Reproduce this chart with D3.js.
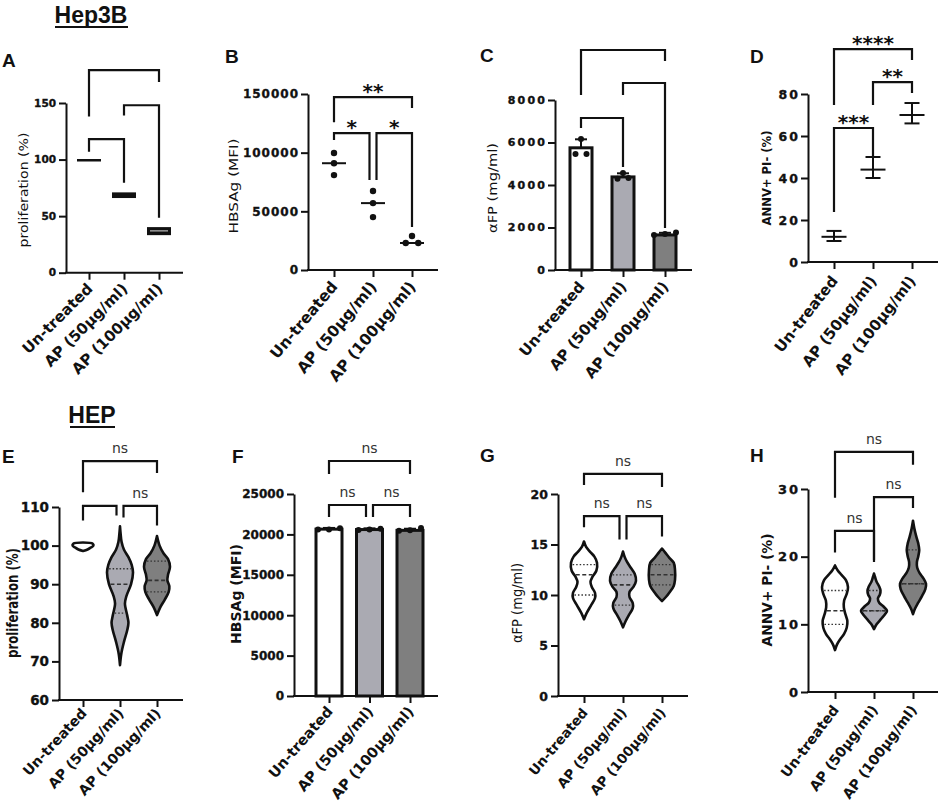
<!DOCTYPE html>
<html>
<head>
<meta charset="utf-8">
<script src="https://cdn.jsdelivr.net/npm/d3@7"></script>
<style>
  html, body { margin: 0; padding: 0; background: #fff; }
  svg { display: block; }
</style>
</head>
<body>
<div id="chart"></div>
<script>
const groups = ['Un-treated', 'AP (50µg/ml)', 'AP (100µg/ml)'];
const fills = ['#ffffff', '#aaaab2', '#7f7f7f'];

// A: Hep3B proliferation (%), floating min-max with mean
const aLow = [99.5, 66, 33.2];
const aHigh = [100.5, 71, 40.3];
const aMean = [100, 68.5, 37];
const aTicks = [0, 50, 100, 150];
// [from, to, bar, left leg end, right leg end, label]
const aBrackets = [[0, 2, 179, 138, 168.5, ''], [1, 2, 148, 139, 48.6, ''], [0, 1, 118, 107, 79.4, '']];

// B: HBSAg (MFI), scatter with median
const bPoints = [[99700, 91000, 80900], [67300, 57000, 45100], [29000, 23000, 23000]];
const bMedian = [91000, 57000, 23000];
const bTicks = [0, 50000, 100000, 150000];
const bBrackets = [[0, 2, 147400, 126000, 138000, '**'], [0, 1, 116700, 110700, 76700, '*'], [1, 2, 116700, 76700, 36600, '*']];

// C: aFP (mg/ml), bars with SD
const cMean = [5750, 4380, 1650];
const cSD = [400, 170, 100];
const cPoints = [[6160, 5460, 5460], [4560, 4330, 4300], [1760, 1650, 1690]];
const cTicks = [0, 2000, 4000, 6000, 8000];
const cBrackets = [[0, 2, 10353, 8235, 9835, ''], [1, 2, 8800, 8235, 1976, ''], [0, 1, 7153, 6682, 4847, '']];

// D: ANNV+ PI- (%), mean with SD
const dMean = [12, 44, 70];
const dLow = [10, 40, 66];
const dHigh = [14.8, 50, 75.7];
const dTicks = [0, 20, 40, 60, 80];
const dBrackets = [[0, 2, 101.4, 74.8, 96.2, '****'], [1, 2, 85.7, 74.8, 80.5, '**'], [0, 1, 63.8, 23.8, 49.5, '***']];

// E: HEP proliferation (%), violins [value, relative density]
const eViolins = [
  [[98.6, 0], [99.0, 0.35], [99.5, 0.6], [100, 0.8], [100.5, 0.75], [100.8, 0]],
  [[69, 0], [72, 0.1], [75, 0.3], [78, 0.55], [80, 0.65], [82, 0.55], [85, 0.38], [87, 0.5], [90, 0.85], [93, 1], [95, 0.9], [97, 0.65], [99, 0.3], [101, 0.12], [103, 0.05], [105, 0]],
  [[82, 0], [84, 0.25], [86, 0.6], [88, 0.9], [89.5, 0.95], [91, 0.8], [92.5, 0.85], [94.5, 1], [96.5, 0.85], [98, 0.5], [100, 0.2], [102.5, 0]]
];
const eQuartiles = [[], [82.5, 90, 94], [88, 91, 96]];
const eTicks = [60, 70, 80, 90, 100, 110];
const eBrackets = [[0, 2, 121.9, 113.8, 118.8, 'ns'], [0, 1, 110.3, 106.5, 107.8, ''], [1, 2, 110.3, 107.3, 105.2, 'ns']];

// F: HBSAg (MFI), bars with SD
const fMean = [20650, 20600, 20500];
const fSD = [150, 150, 200];
const fPoints = [[20750, 20600, 20600], [20700, 20600, 20550], [20800, 20450, 20500]];
const fTicks = [0, 5000, 10000, 15000, 20000, 25000];
const fBrackets = [[0, 2, 29084, 27475, 27475, 'ns'], [0, 1, 23639, 22153, 22153, 'ns'], [1, 2, 23639, 22153, 22153, 'ns']];

// G: aFP (mg/ml), violins
const gViolins = [
  [[7.6, 0], [8.2, 0.2], [9, 0.55], [9.7, 0.85], [10.2, 0.85], [10.8, 0.6], [11.3, 0.5], [11.8, 0.65], [12.4, 0.95], [13.2, 1], [13.8, 0.8], [14.3, 0.45], [14.8, 0.15], [15.3, 0]],
  [[6.8, 0], [7.4, 0.2], [8.0, 0.45], [8.7, 0.75], [9.2, 0.75], [9.8, 0.5], [10.3, 0.5], [10.8, 0.8], [11.4, 1], [12.1, 0.9], [12.7, 0.6], [13.3, 0.3], [13.8, 0.12], [14.3, 0]],
  [[9.4, 0], [9.8, 0.3], [10.3, 0.6], [10.9, 0.9], [11.5, 1], [12.5, 1], [13.2, 0.9], [13.7, 0.55], [14.2, 0.25], [14.6, 0]]
];
const gQuartiles = [[10, 12, 13], [9, 11, 12], [11, 12, 13]];
const gTicks = [0, 5, 10, 15, 20];
const gBrackets = [[0, 2, 22.0, 20.9, 20.7, 'ns'], [0, 1, 17.8, 16.7, 15.5, 'ns'], [1, 2, 17.8, 15.5, 15.8, 'ns']];

// H: ANNV+ PI- (%), violins
const hViolins = [
  [[6.2, 0], [7, 0.15], [7.8, 0.4], [8.6, 0.7], [9.5, 0.9], [10.5, 0.95], [11.5, 0.8], [12.5, 0.68], [13.5, 0.7], [14.5, 0.9], [15.5, 1], [16.5, 0.85], [17.3, 0.5], [18, 0.2], [18.7, 0]],
  [[9.3, 0], [10, 0.2], [10.8, 0.55], [11.5, 0.85], [12, 1], [12.6, 0.75], [13.2, 0.4], [13.8, 0.3], [14.4, 0.45], [15, 0.5], [15.6, 0.4], [16.3, 0.2], [17, 0.08], [17.5, 0]],
  [[11.5, 0], [12.3, 0.15], [13.2, 0.4], [14.2, 0.7], [15.2, 0.95], [16, 1], [16.8, 0.8], [17.6, 0.5], [18.4, 0.32], [19.2, 0.3], [20, 0.4], [21, 0.48], [22, 0.4], [23, 0.25], [24.2, 0.1], [25.3, 0]]
];
const hQuartiles = [[10, 12, 15], [12, 12, 15], [16, 16, 21]];
const hTicks = [0, 10, 20, 30];
const hBrackets = [[0, 2, 35.5, 28.7, 33.6, 'ns'], [1, 2, 28.8, 19.5, 27.2, 'ns'], [0, 1, 23.8, 20.6, 19.2, 'ns']];

const W = 941, H = 801;
const FONT = '"DejaVu Sans", sans-serif';
const HEAD = '"Liberation Sans", Arial, sans-serif';

const svg = d3.select('#chart').append('svg')
  .attr('width', W).attr('height', H)
  .attr('font-family', FONT);

// section titles
function title(text, cx, base, x1, x2) {
  svg.append('text').attr('x', cx).attr('y', base).attr('text-anchor', 'middle')
    .attr('font-family', HEAD).attr('font-weight', 'bold').attr('font-size', 23).attr('fill', '#111')
    .text(text);
  svg.append('line').attr('x1', x1).attr('x2', x2).attr('y1', base + 4).attr('y2', base + 4)
    .attr('stroke', '#111').attr('stroke-width', 2);
}
title('Hep3B', 91, 23, 55, 128);
title('HEP', 92, 423, 70, 115);

function swarmOffsets(values, y, gap) {
  // cluster points that sit on nearly the same height and spread them symmetrically
  const idx = values.map((v, i) => i).sort((a, b) => values[a] - values[b]);
  const out = new Array(values.length).fill(0);
  let cluster = [];
  const flush = () => {
    cluster.forEach((k, j) => { out[k] = (j - (cluster.length - 1) / 2) * gap; });
    cluster = [];
  };
  idx.forEach(i => {
    if (cluster.length && Math.abs(y(values[i]) - y(values[cluster[cluster.length - 1]])) > 4) flush();
    cluster.push(i);
  });
  flush();
  return out;
}

function widthAt(profile, v) {
  for (let i = 1; i < profile.length; i++) {
    const [v0, d0] = profile[i - 1], [v1, d1] = profile[i];
    if (v >= v0 && v <= v1) return d0 + (d1 - d0) * (v - v0) / (v1 - v0);
  }
  return 0;
}

function panel(p) {
  const g = svg.append('g');
  const x = d3.scalePoint().domain(groups).range([p.t0, p.t1]);
  const y = d3.scaleLinear().domain([p.ticks[0], p.ticks[p.ticks.length - 1]]).range([p.yb, p.yt]);

  g.append('text').attr('x', p.letter[0]).attr('y', p.letter[1])
    .attr('font-family', HEAD).attr('font-weight', 'bold').attr('font-size', 19).attr('fill', '#111')
    .text(p.name);

  // y axis (lines from d3.axisLeft, labels written out so they keep their weight)
  const ya = g.append('g').attr('transform', `translate(${p.ax},0)`)
    .call(d3.axisLeft(y).tickValues(p.ticks).tickFormat('').tickSize(7).tickSizeOuter(0));
  ya.select('.domain').attr('stroke', '#111').attr('stroke-width', 2);
  ya.selectAll('.tick line').attr('stroke', '#111').attr('stroke-width', 2);
  ya.selectAll('.tick text').remove();
  g.append('g').selectAll('text').data(p.ticks).join('text')
    .attr('x', p.ax - 10 + p.tickLs).attr('y', d => y(d)).attr('dy', '0.36em')
    .attr('text-anchor', 'end')
    .attr('font-family', FONT).attr('font-weight', 700).attr('font-size', p.tickSize)
    .attr('letter-spacing', p.tickLs).attr('fill', '#111')
    .attr('stroke', '#111').attr('stroke-width', 0.35)
    .text(d3.format('d'));

  // x axis
  g.append('line').attr('x1', p.ax - 1).attr('x2', p.x1).attr('y1', p.yb).attr('y2', p.yb)
    .attr('stroke', '#111').attr('stroke-width', 2);
  const xa = g.append('g').attr('transform', `translate(0,${p.yb})`)
    .call(d3.axisBottom(x).tickSize(7).tickSizeOuter(0));
  xa.attr('font-family', FONT);
  xa.select('.domain').remove();
  xa.selectAll('.tick line').attr('stroke', '#111').attr('stroke-width', 2);
  xa.selectAll('.tick text')
    .attr('x', 0).attr('y', 0).attr('dy', 0)
    .attr('text-anchor', 'end')
    .style('font-size', p.xlSize + 'px').style('font-weight', 'bold').style('fill', '#111')
    .attr('transform', `translate(4,${p.xlDy}) rotate(${p.xlAngle})`);

  // y label
  g.append('text')
    .attr('transform', `translate(${p.yl[0]},${p.yl[1]}) rotate(-90)`)
    .attr('text-anchor', 'middle').attr('dominant-baseline', 'central')
    .attr('font-size', p.ylSize).attr('font-weight', p.ylWeight).attr('fill', '#111')
    .attr('textLength', p.ylLen).attr('lengthAdjust', 'spacingAndGlyphs')
    .text(p.ylabel);

  const marks = g.append('g');
  p.draw(marks, x, y);

  // significance brackets
  const bg = g.append('g');
  p.brackets.forEach((b, i) => {
    let xl = x(groups[b[0]]), xr = x(groups[b[1]]);
    p.brackets.forEach((c, j) => {
      if (i === j || c[2] !== b[2]) return;
      if (c[0] === b[1]) xr -= 3.5;
      if (c[1] === b[0]) xl += 3.5;
    });
    bg.append('path')
      .attr('d', `M${xl},${y(b[3])}V${y(b[2])}H${xr}V${y(b[4])}`)
      .attr('fill', 'none').attr('stroke', '#111').attr('stroke-width', 2.2);
    if (b[5]) {
      const star = b[5] !== 'ns';
      bg.append('text')
        .attr('x', (xl + xr) / 2).attr('y', y(b[2]) + (star ? 1 : -8))
        .attr('text-anchor', 'middle')
        .attr('font-size', star ? 20 : 14).attr('font-weight', star ? 'bold' : 'normal')
        .attr('fill', star ? '#111' : '#333')
        .text(b[5]);
    }
  });
}

function drawBars(mean, sd, points, bw) {
  return (m, x, y) => {
    groups.forEach((gname, i) => {
      const cx = x(gname);
      m.append('line').attr('x1', cx).attr('x2', cx).attr('y1', y(mean[i])).attr('y2', y(mean[i] + sd[i]))
        .attr('stroke', '#111').attr('stroke-width', 2);
      m.append('line').attr('x1', cx - 6).attr('x2', cx + 6).attr('y1', y(mean[i] + sd[i])).attr('y2', y(mean[i] + sd[i]))
        .attr('stroke', '#111').attr('stroke-width', 2);
      m.append('rect').attr('x', cx - bw / 2).attr('width', bw)
        .attr('y', y(mean[i])).attr('height', y(0) - y(mean[i]))
        .attr('fill', fills[i]).attr('stroke', '#111').attr('stroke-width', 3);
      const off = swarmOffsets(points[i], y, 11);
      points[i].forEach((v, k) => {
        m.append('circle').attr('cx', cx + off[k]).attr('cy', y(v)).attr('r', 3).attr('fill', '#111');
      });
    });
  };
}

function drawViolins(profiles, quartiles) {
  const w = d3.scaleLinear().domain([0, 1]).range([0, 13]);
  return (m, x, y) => {
    groups.forEach((gname, i) => {
      const cx = x(gname);
      const area = d3.area().curve(d3.curveCatmullRom)
        .y(d => y(d[0])).x0(d => cx - w(d[1])).x1(d => cx + w(d[1]));
      m.append('path').attr('d', area(profiles[i]))
        .attr('fill', fills[i]).attr('stroke', '#111').attr('stroke-width', 2.6).attr('stroke-linejoin', 'round');
      quartiles[i].forEach((q, k) => {
        const hw = w(widthAt(profiles[i], q)) - 1.5;
        m.append('line').attr('x1', cx - hw).attr('x2', cx + hw).attr('y1', y(q)).attr('y2', y(q))
          .attr('stroke', '#333').attr('stroke-width', k === 1 ? 1.6 : 1.3)
          .attr('stroke-dasharray', k === 1 ? '4,2.5' : '1.5,2');
      });
    });
  };
}

panel({
  name: 'A', letter: [2, 67], ax: 66, x1: 183, t0: 89, t1: 159, yb: 272.7, yt: 103, ticks: aTicks,
  tickSize: 10.5, tickLs: 0, xlSize: 15, xlAngle: -45, xlDy: 17,
  yl: [23, 190], ylSize: 13, ylWeight: 'normal', ylLen: 115, ylabel: 'proliferation (%)',
  brackets: aBrackets,
  draw: (m, x, y) => {
    groups.forEach((gname, i) => {
      const cx = x(gname);
      const top = y(aHigh[i]), h = Math.max(2.5, y(aLow[i]) - y(aHigh[i]));
      m.append('rect').attr('x', cx - 12).attr('width', 24).attr('y', top).attr('height', h).attr('fill', '#111');
      if (h > 7) {
        m.append('line').attr('x1', cx - 9).attr('x2', cx + 9).attr('y1', y(aMean[i])).attr('y2', y(aMean[i]))
          .attr('stroke', '#9a9a9a').attr('stroke-width', 1.5);
      }
    });
  }
});

panel({
  name: 'B', letter: [225, 63], ax: 308, x1: 438, t0: 334, t1: 412, yb: 270, yt: 94, ticks: bTicks,
  tickSize: 12, tickLs: 1, xlSize: 15.5, xlAngle: -50, xlDy: 17,
  yl: [233, 186], ylSize: 13, ylWeight: 'normal', ylLen: 95, ylabel: 'HBSAg (MFI)',
  brackets: bBrackets,
  draw: (m, x, y) => {
    groups.forEach((gname, i) => {
      const cx = x(gname);
      m.append('line').attr('x1', cx - 12).attr('x2', cx + 12).attr('y1', y(bMedian[i])).attr('y2', y(bMedian[i]))
        .attr('stroke', '#111').attr('stroke-width', 2);
      const off = swarmOffsets(bPoints[i], y, 12.5);
      bPoints[i].forEach((v, k) => {
        m.append('circle').attr('cx', cx + off[k]).attr('cy', y(v)).attr('r', 3.2).attr('fill', '#111');
      });
    });
  }
});

panel({
  name: 'C', letter: [480, 62], ax: 555, x1: 692, t0: 581, t1: 665, yb: 270, yt: 100, ticks: cTicks,
  tickSize: 11, tickLs: 2.2, xlSize: 15, xlAngle: -50, xlDy: 17,
  yl: [493, 188], ylSize: 12, ylWeight: 'normal', ylLen: 90, ylabel: 'αFP (mg/ml)',
  brackets: cBrackets,
  draw: drawBars(cMean, cSD, cPoints, 22)
});

panel({
  name: 'D', letter: [750, 63], ax: 808, x1: 938, t0: 834, t1: 912, yb: 262, yt: 94, ticks: dTicks,
  tickSize: 12.5, tickLs: 2, xlSize: 15, xlAngle: -52, xlDy: 19,
  yl: [767, 178], ylSize: 12, ylWeight: 'bold', ylLen: 95, ylabel: 'ANNV+ PI- (%)',
  brackets: dBrackets,
  draw: (m, x, y) => {
    groups.forEach((gname, i) => {
      const cx = x(gname);
      m.append('line').attr('x1', cx).attr('x2', cx).attr('y1', y(dLow[i])).attr('y2', y(dHigh[i]))
        .attr('stroke', '#111').attr('stroke-width', 2);
      [dLow[i], dHigh[i]].forEach(v => {
        m.append('line').attr('x1', cx - 7.5).attr('x2', cx + 7.5).attr('y1', y(v)).attr('y2', y(v))
          .attr('stroke', '#111').attr('stroke-width', 2);
      });
      m.append('line').attr('x1', cx - 12.5).attr('x2', cx + 12.5).attr('y1', y(dMean[i])).attr('y2', y(dMean[i]))
        .attr('stroke', '#111').attr('stroke-width', 2);
    });
  }
});

panel({
  name: 'E', letter: [2, 463], ax: 59, x1: 183, t0: 83, t1: 157, yb: 700, yt: 507, ticks: eTicks,
  tickSize: 13.5, tickLs: 0, xlSize: 14, xlAngle: -47, xlDy: 14,
  yl: [13, 603], ylSize: 15, ylWeight: 'bold', ylLen: 110, ylabel: 'proliferation (%)',
  brackets: eBrackets,
  draw: drawViolins(eViolins, eQuartiles)
});

panel({
  name: 'F', letter: [232, 463], ax: 294, x1: 438, t0: 329, t1: 410, yb: 696, yt: 494, ticks: fTicks,
  tickSize: 12, tickLs: 0, xlSize: 14.5, xlAngle: -49, xlDy: 16,
  yl: [236, 594], ylSize: 14, ylWeight: 'bold', ylLen: 100, ylabel: 'HBSAg (MFI)',
  brackets: fBrackets,
  draw: drawBars(fMean, fSD, fPoints, 26)
});

panel({
  name: 'G', letter: [480, 462], ax: 558, x1: 688, t0: 584, t1: 662, yb: 696, yt: 494, ticks: gTicks,
  tickSize: 12.5, tickLs: 0, xlSize: 13.5, xlAngle: -50, xlDy: 17,
  yl: [517, 603], ylSize: 14, ylWeight: 'normal', ylLen: 80, ylabel: 'αFP (mg/ml)',
  brackets: gBrackets,
  draw: drawViolins(gViolins, gQuartiles)
});

panel({
  name: 'H', letter: [750, 462], ax: 808, x1: 938, t0: 835, t1: 913, yb: 692, yt: 489, ticks: hTicks,
  tickSize: 13, tickLs: 2, xlSize: 14, xlAngle: -53, xlDy: 18,
  yl: [767, 590], ylSize: 14, ylWeight: 'bold', ylLen: 113, ylabel: 'ANNV+ PI- (%)',
  brackets: hBrackets,
  draw: drawViolins(hViolins, hQuartiles)
});
</script>
</body>
</html>
